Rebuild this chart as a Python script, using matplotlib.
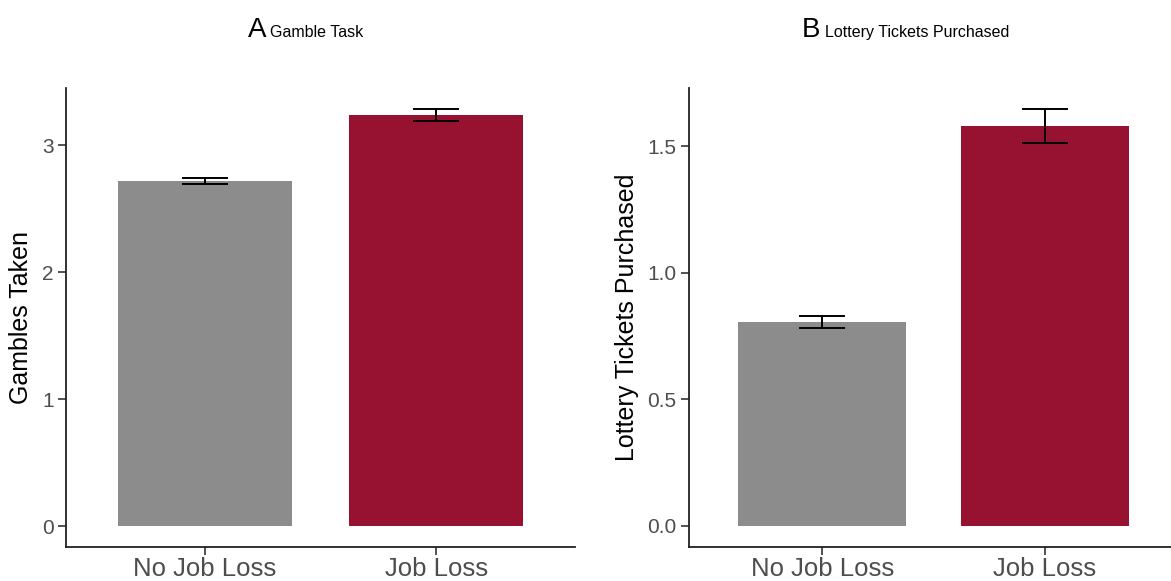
import numpy as np
import matplotlib.pyplot as plt

plt.rcParams['font.family'] = ['Liberation Sans', 'DejaVu Sans']

groups = ['No Job Loss', 'Job Loss']
colors = ['#8c8c8c', '#971230']

gamble_mean = [2.719, 3.236]
gamble_se = [0.024, 0.050]
lottery_mean = [0.805, 1.579]
lottery_se = [0.025, 0.067]

gamble_ticks = [0, 1, 2, 3]
gamble_ticklabels = ['0', '1', '2', '3']
lottery_ticks = [0.0, 0.5, 1.0, 1.5]
lottery_ticklabels = ['0.0', '0.5', '1.0', '1.5']

W, H = 1171, 581
fig = plt.figure(figsize=(W / 100, H / 100), dpi=100)


def panel(rect, means, ses, ylabel, ticks, ticklabels, ylim, bw):
    ax = fig.add_axes(rect)
    x = np.arange(1, len(means) + 1)
    ax.bar(x, means, width=bw, color=colors, zorder=1)
    ax.errorbar(x, means, yerr=ses, fmt='none', ecolor='black',
                elinewidth=1.4, capsize=16.5, capthick=1.4, zorder=2)
    ax.set_xlim(0.4, 2.6)
    ax.set_ylim(*ylim)
    ax.set_xticks(x)
    ax.set_xticklabels(groups, fontsize=18.5, color='#4d4d4d')
    ax.set_yticks(ticks)
    ax.set_yticklabels(ticklabels, fontsize=15, color='#4d4d4d')
    ax.tick_params(axis='both', length=6, width=1.2, color='#333333')
    ax.tick_params(axis='x', pad=1)
    ax.tick_params(axis='y', pad=3)
    for s in ['top', 'right']:
        ax.spines[s].set_visible(False)
    for s in ['left', 'bottom']:
        ax.spines[s].set_linewidth(1.3)
        ax.spines[s].set_color('#222222')
    ax.set_ylabel(ylabel, fontsize=18, labelpad=6)
    return ax


axA = panel([66 / W, 1 - 547 / H, (575 - 66) / W, (547 - 88) / H],
            gamble_mean, gamble_se, 'Gambles Taken',
            gamble_ticks, gamble_ticklabels, (-0.165, 3.449), 0.753)
axB = panel([689 / W, 1 - 547 / H, 489 / W, (547 - 88) / H],
            lottery_mean, lottery_se, 'Lottery Tickets Purchased',
            lottery_ticks, lottery_ticklabels, (-0.083, 1.729), 0.757)

# titles: big letter + small subtitle
fig.text(266 / W, 1 - 37 / H, 'A', fontsize=20, ha='right', va='baseline')
fig.text(270 / W, 1 - 37 / H, 'Gamble Task', fontsize=11.5, ha='left', va='baseline')
fig.text(820 / W, 1 - 37 / H, 'B', fontsize=20, ha='right', va='baseline')
fig.text(825 / W, 1 - 37 / H, 'Lottery Tickets Purchased', fontsize=11.5,
         ha='left', va='baseline')

fig.savefig('out.png', dpi=100)
